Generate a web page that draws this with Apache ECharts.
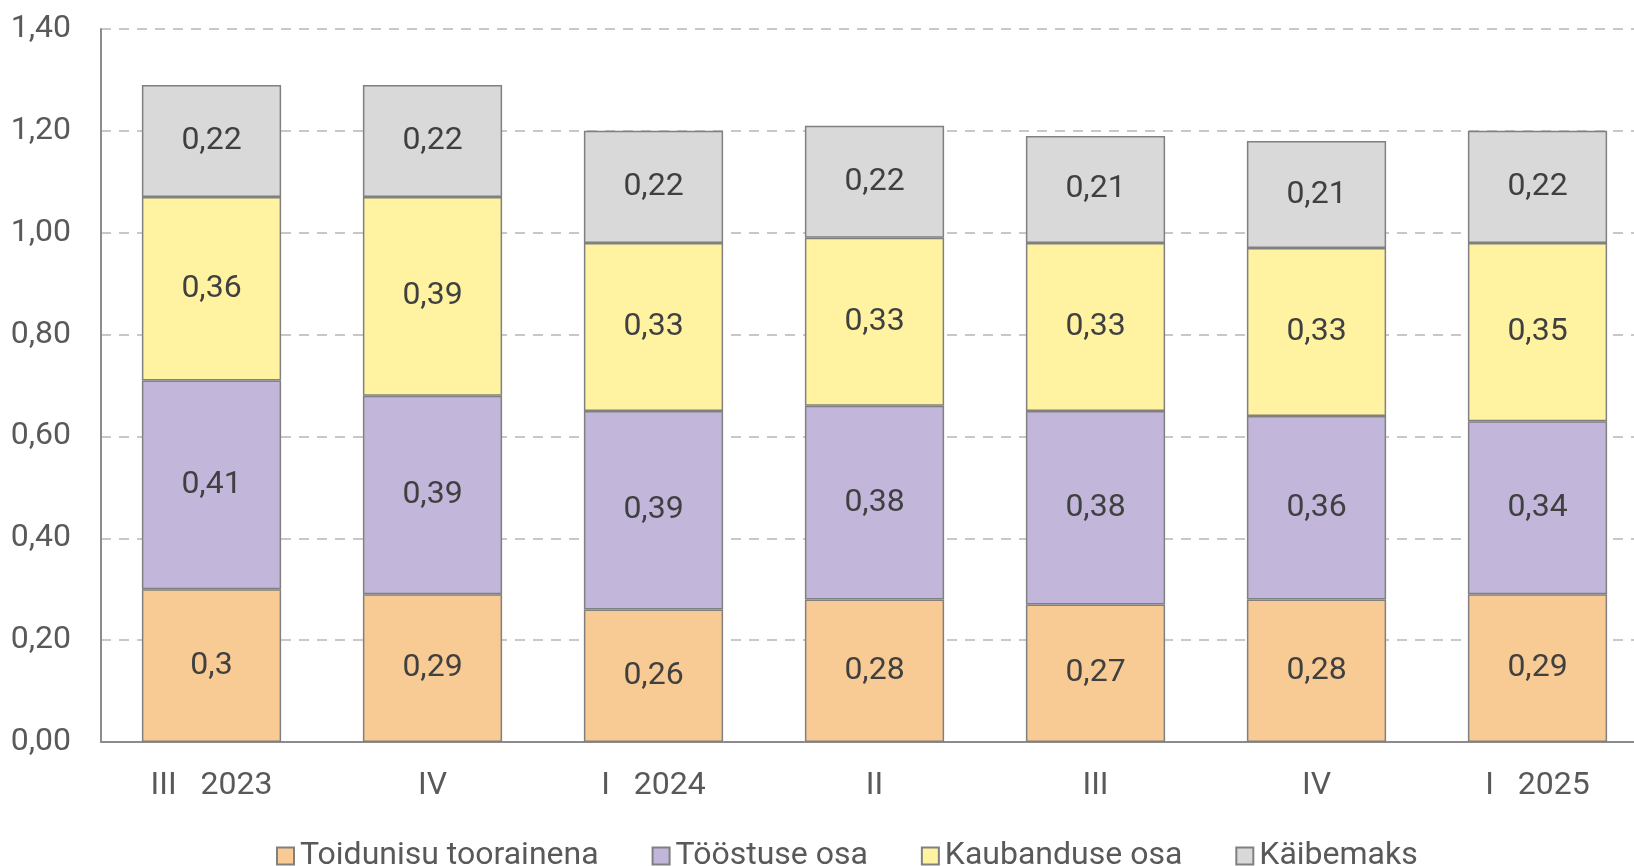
<!DOCTYPE html>
<html>
<head>
<meta charset="utf-8">
<script src="https://cdn.jsdelivr.net/npm/echarts@6/dist/echarts.min.js"></script>
<style>
  html, body { margin: 0; padding: 0; background: #fff; }
  #chart { width: 1634px; height: 866px; }
</style>
</head>
<body>
<div id="chart"></div>
<script>
  // kvartalid
  var categories = ['III   2023', 'IV', 'I   2024', 'II', 'III', 'IV', 'I   2025'];
  var toorainena = [0.3, 0.29, 0.26, 0.28, 0.27, 0.28, 0.29];
  var toostus = [0.41, 0.39, 0.39, 0.38, 0.38, 0.36, 0.34];
  var kaubandus = [0.36, 0.39, 0.33, 0.33, 0.33, 0.33, 0.35];
  var kaibemaks = [0.22, 0.22, 0.22, 0.22, 0.21, 0.21, 0.22];

  var fontFam = 'Roboto, "Noto Sans", sans-serif';

  function makeSeries(name, data, color) {
    return {
      name: name,
      type: 'bar',
      stack: 'hind',
      data: data,
      barCategoryGap: '37%',
      itemStyle: { color: color, borderColor: '#808080', borderWidth: 1.5 },
      label: {
        show: true,
        position: 'inside',
        color: '#404040',
        fontSize: 32,
        fontFamily: fontFam,
        formatter: function (p) { return String(p.value).replace('.', ','); }
      }
    };
  }

  var chart = echarts.init(document.getElementById('chart'));
  chart.setOption({
    animation: false,
    // graafik läheb paremalt üle ääre
    grid: { left: 101, top: 29, height: 713, width: 1547, containLabel: false, outerBoundsMode: 'none' },
    legend: {
      left: 271,
      top: 835,
      itemWidth: 17,
      itemHeight: 17,
      itemGap: 53,
      icon: 'rect',
      textStyle: { fontSize: 32, color: '#595959', fontFamily: fontFam, padding: [0, 0, 0, 1] },
      data: ['Toidunisu toorainena', 'Tööstuse osa', 'Kaubanduse osa', 'Käibemaks']
    },
    xAxis: {
      type: 'category',
      data: categories,
      axisLine: { lineStyle: { color: '#8c8c8c', width: 2 } },
      axisTick: { show: false },
      axisLabel: { color: '#595959', fontSize: 32, fontFamily: fontFam, margin: 28 }
    },
    yAxis: {
      type: 'value',
      min: 0,
      max: 1.4,
      interval: 0.2,
      axisLine: { show: true, lineStyle: { color: '#8c8c8c', width: 2 } },
      axisTick: { show: false },
      splitLine: { lineStyle: { color: '#c8c8c8', type: [10, 8], width: 2 } },
      axisLabel: {
        color: '#595959',
        fontSize: 32,
        fontFamily: fontFam,
        margin: 30,
        formatter: function (v) { return v.toFixed(2).replace('.', ','); }
      }
    },
    series: [
      makeSeries('Toidunisu toorainena', toorainena, '#F9CB94'),
      makeSeries('Tööstuse osa', toostus, '#C2B7DA'),
      makeSeries('Kaubanduse osa', kaubandus, '#FFF2A0'),
      makeSeries('Käibemaks', kaibemaks, '#D9D9D9')
    ]
  });
</script>
</body>
</html>
